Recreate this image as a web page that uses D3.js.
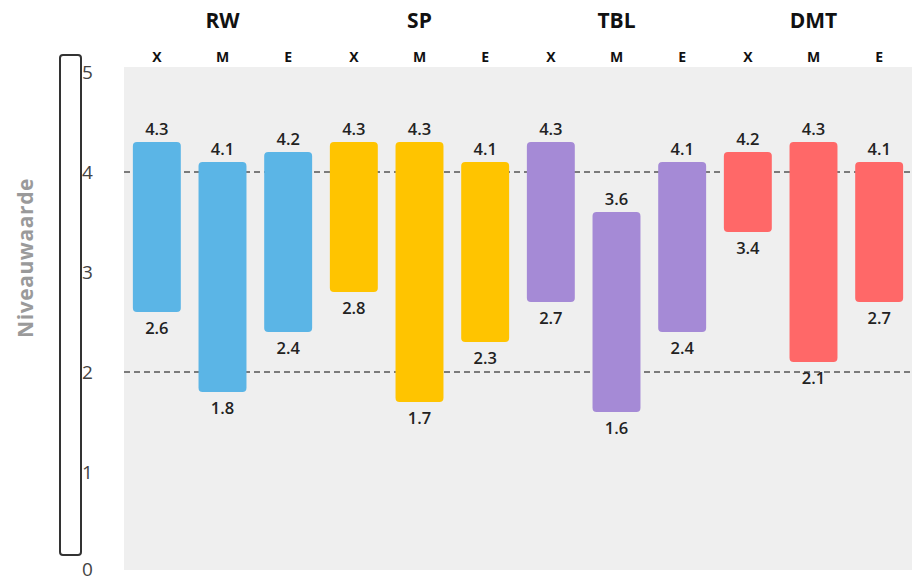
<!DOCTYPE html>
<html>
<head>
<meta charset="utf-8">
<script src="https://cdn.jsdelivr.net/npm/d3@7/dist/d3.min.js"></script>
<style>
  body { margin: 0; background: #fff; }
  svg { font-family: "Open Sans", "Noto Sans", sans-serif; display: block; }
</style>
</head>
<body>
<div id="chart"></div>
<script>
// subjects and the three measures per subject
const groups = ['RW', 'SP', 'TBL', 'DMT'];
const measures = ['X', 'M', 'E'];
const lowValues = [
  [2.6, 1.8, 2.4],
  [2.8, 1.7, 2.3],
  [2.7, 1.6, 2.4],
  [3.4, 2.1, 2.7]
];
const highValues = [
  [4.3, 4.1, 4.2],
  [4.3, 4.3, 4.1],
  [4.3, 3.6, 4.1],
  [4.2, 4.3, 4.1]
];
const yTicks = [0, 1, 2, 3, 4, 5];
const refLines = [2, 4];
const groupColors = ['#5bb5e6', '#ffc400', '#a58ad6', '#ff6868'];

const width = 918, height = 581;
const plotLeft = 124, plotRight = 912;

const rows = [];
groups.forEach((g, gi) => {
  measures.forEach((m, mi) => {
    rows.push({ key: g + '-' + m, group: g, gi: gi, measure: m, lo: lowValues[gi][mi], hi: highValues[gi][mi] });
  });
});

const svg = d3.select('#chart').append('svg')
  .attr('width', width)
  .attr('height', height);

const x = d3.scaleBand()
  .domain(rows.map(d => d.key))
  .range([plotLeft, plotRight])
  .paddingInner(0.27)
  .paddingOuter(0.135);

const y = d3.scaleLinear().domain([0, 5]).range([572, 72]);

// plot background
svg.append('rect')
  .attr('x', plotLeft)
  .attr('y', y(5) - 5)
  .attr('width', plotRight - plotLeft)
  .attr('height', y(0) - y(5) + 3)
  .attr('fill', '#efefef');

// dashed reference lines
svg.selectAll('line.ref')
  .data(refLines)
  .enter()
  .append('line')
  .attr('class', 'ref')
  .attr('x1', plotLeft)
  .attr('x2', plotRight)
  .attr('y1', d => y(d))
  .attr('y2', d => y(d))
  .attr('stroke', '#555')
  .attr('stroke-width', 1.3)
  .attr('stroke-dasharray', '6,4');

// bars
svg.selectAll('rect.bar')
  .data(rows)
  .enter()
  .append('rect')
  .attr('class', 'bar')
  .attr('x', d => x(d.key))
  .attr('width', x.bandwidth())
  .attr('y', d => y(d.hi))
  .attr('height', d => y(d.lo) - y(d.hi))
  .attr('rx', 4)
  .attr('fill', d => groupColors[d.gi]);

// value labels
svg.selectAll('text.hi')
  .data(rows)
  .enter()
  .append('text')
  .attr('x', d => x(d.key) + x.bandwidth() / 2)
  .attr('y', d => y(d.hi) - 7)
  .attr('text-anchor', 'middle')
  .attr('font-size', 16.5)
  .attr('font-weight', 600)
  .attr('fill', '#222')
  .text(d => d.hi.toFixed(1));

svg.selectAll('text.lo')
  .data(rows)
  .enter()
  .append('text')
  .attr('x', d => x(d.key) + x.bandwidth() / 2)
  .attr('y', d => y(d.lo) + 22)
  .attr('text-anchor', 'middle')
  .attr('font-size', 16.5)
  .attr('font-weight', 600)
  .attr('fill', '#222')
  .text(d => d.lo.toFixed(1));

// measure labels
svg.selectAll('text.measure')
  .data(rows)
  .enter()
  .append('text')
  .attr('x', d => x(d.key) + x.bandwidth() / 2)
  .attr('y', 62)
  .attr('text-anchor', 'middle')
  .attr('font-size', 14)
  .attr('font-weight', 700)
  .attr('fill', '#111')
  .text(d => d.measure);

// group labels, centred on the middle bar
svg.selectAll('text.group')
  .data(groups)
  .enter()
  .append('text')
  .attr('x', g => x(g + '-M') + x.bandwidth() / 2)
  .attr('y', 28)
  .attr('text-anchor', 'middle')
  .attr('font-size', 21)
  .attr('font-weight', 700)
  .attr('fill', '#111')
  .text(g => g);

// y axis: outlined bar with numbers on its right
svg.append('rect')
  .attr('x', 60)
  .attr('y', y(5) - 17)
  .attr('width', 21)
  .attr('height', y(0) - y(5))
  .attr('rx', 3)
  .attr('fill', '#fff')
  .attr('stroke', '#333')
  .attr('stroke-width', 2);

svg.selectAll('text.tick')
  .data(yTicks)
  .enter()
  .append('text')
  .attr('x', 82)
  .attr('y', d => d === 0 ? y(d) - 3 : y(d))
  .attr('dy', '0.36em')
  .attr('font-size', 19)
  .attr('fill', '#444')
  .text(d => d);

svg.append('text')
  .attr('transform', 'translate(33,258) rotate(-90)')
  .attr('text-anchor', 'middle')
  .attr('font-size', 21)
  .attr('font-weight', 700)
  .attr('letter-spacing', 0.6)
  .attr('fill', '#9a9a9a')
  .text('Niveauwaarde');
</script>
</body>
</html>
